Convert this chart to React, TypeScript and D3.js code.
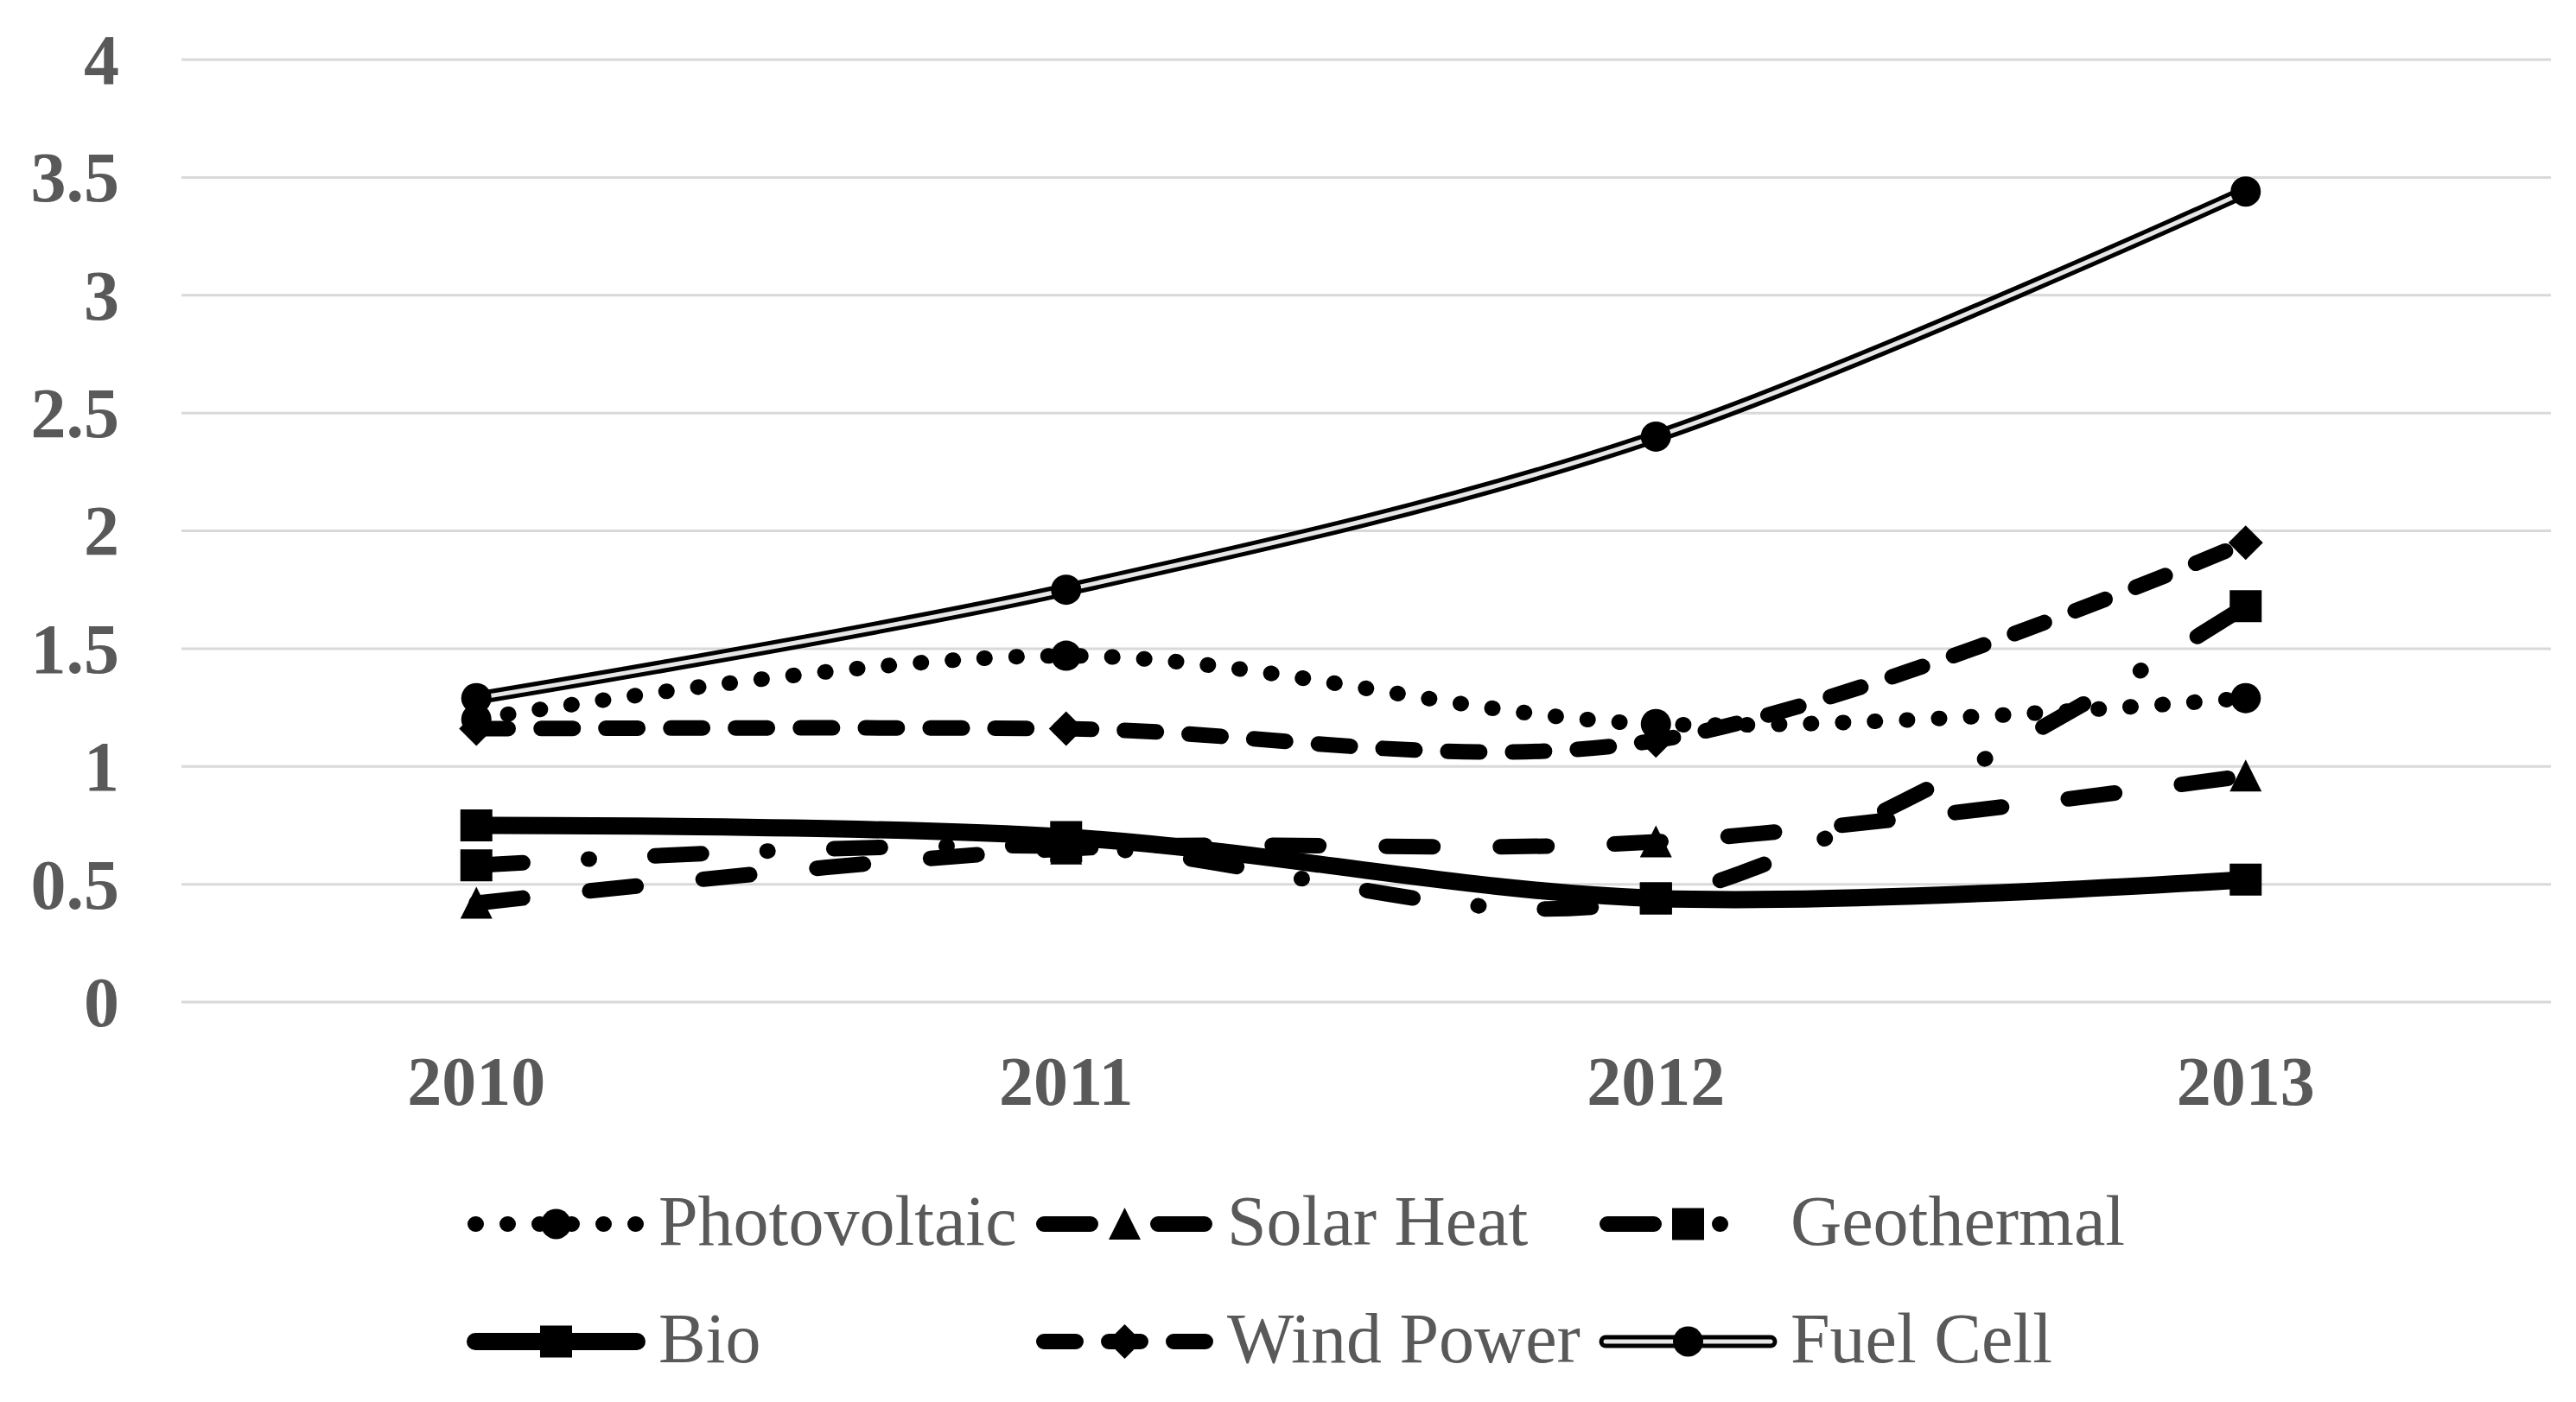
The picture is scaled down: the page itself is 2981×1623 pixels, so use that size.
import React from "react";
import * as d3 from "d3";

const years = ["2010", "2011", "2012", "2013"];
const photovoltaic = [1.2, 1.47, 1.18, 1.29];
const solarHeat = [0.42, 0.65, 0.68, 0.96];
const geothermal = [0.58, 0.66, 0.44, 1.68];
const bio = [0.75, 0.7, 0.44, 0.52];
const windPower = [1.16, 1.16, 1.11, 1.95];
const fuelCell = [1.29, 1.75, 2.4, 3.44];
const yTicks = [0, 0.5, 1, 1.5, 2, 2.5, 3, 3.5, 4];
const yTickLabels = ["0", "0.5", "1", "1.5", "2", "2.5", "3", "3.5", "4"];

type Marker = "circle" | "triangle" | "square" | "diamond";
type Style = "dot" | "longdash" | "dashdot" | "solid" | "dash" | "double";

interface Series {
  name: string;
  values: number[];
  marker: Marker;
  style: Style;
}

const series: Series[] = [
  { name: "Photovoltaic", values: photovoltaic, marker: "circle", style: "dot" },
  { name: "Solar Heat", values: solarHeat, marker: "triangle", style: "longdash" },
  { name: "Geothermal", values: geothermal, marker: "square", style: "dashdot" },
  { name: "Bio", values: bio, marker: "square", style: "solid" },
  { name: "Wind Power", values: windPower, marker: "diamond", style: "dash" },
  { name: "Fuel Cell", values: fuelCell, marker: "circle", style: "double" },
];

const W = 2981;
const H = 1623;
const FONT = "'Liberation Serif', 'Times New Roman', serif";
const TEXT = "#595959";

const x = d3.scaleBand<string>().domain(years).range([210, 2940]);
const y = d3.scaleLinear().domain([0, 4]).range([1160, 69]);

const dashFor = (s: Style): string | undefined => {
  switch (s) {
    case "dot":
      return "1 36";
    case "longdash":
      return "54 78";
    case "dashdot":
      return "54 76 1 76";
    case "dash":
      return "37 38";
    default:
      return undefined;
  }
};

const markerPath = (m: Marker, cx: number, cy: number): string => {
  const p = d3.path();
  if (m === "circle") {
    p.arc(cx, cy, 17.5, 0, Math.PI * 2);
  } else if (m === "square") {
    p.rect(cx - 18.5, cy - 18.5, 37, 37);
  } else if (m === "triangle") {
    p.moveTo(cx, cy - 19);
    p.lineTo(cx + 18.5, cy + 18);
    p.lineTo(cx - 18.5, cy + 18);
    p.closePath();
  } else {
    p.moveTo(cx, cy - 20);
    p.lineTo(cx + 20, cy);
    p.lineTo(cx, cy + 20);
    p.lineTo(cx - 20, cy);
    p.closePath();
  }
  return p.toString();
};

const lineGen = d3
  .line<number>()
  .x((_, i) => (x(years[i]) as number) + x.bandwidth() / 2)
  .y((v) => y(v))
  .curve(d3.curveCardinal.tension(0));

function SeriesLine({ s }: { s: Series }) {
  const d = lineGen(s.values) || "";
  const width = s.style === "solid" ? 20 : 18;
  return (
    <g>
      {s.style === "double" ? (
        <>
          <path d={d} fill="none" stroke="#000" strokeWidth={15} strokeLinecap="round" />
          <path d={d} fill="none" stroke="#e6e6e6" strokeWidth={5} strokeLinecap="round" />
        </>
      ) : (
        <path
          d={d}
          fill="none"
          stroke="#000"
          strokeWidth={width}
          strokeLinecap="round"
          strokeLinejoin="round"
          strokeDasharray={dashFor(s.style)}
        />
      )}
      {s.values.map((v, i) => (
        <path
          key={i}
          d={markerPath(s.marker, (x(years[i]) as number) + x.bandwidth() / 2, y(v))}
          fill="#000"
        />
      ))}
    </g>
  );
}

const legendCols = [541, 1199, 1851];
const legendRows = [1417, 1553];
const legendSymLen = 205;
const legendTextOffset = 221;

function LegendItem({ s, idx }: { s: Series; idx: number }) {
  const lx = legendCols[idx % 3];
  const ly = legendRows[Math.floor(idx / 3)];
  const x0 = lx + 9;
  const x1 = lx + legendSymLen - 9;
  const d = `M${x0},${ly}L${x1},${ly}`;
  const mx = lx + legendSymLen / 2;
  return (
    <g>
      {s.style === "double" ? (
        <>
          <path d={`M${lx + 7},${ly}L${lx + legendSymLen - 7},${ly}`} stroke="#000" strokeWidth={15} strokeLinecap="round" />
          <path d={`M${lx + 7},${ly}L${lx + legendSymLen - 7},${ly}`} stroke="#e6e6e6" strokeWidth={5} strokeLinecap="round" />
        </>
      ) : (
        <path
          d={d}
          stroke="#000"
          strokeWidth={s.style === "solid" ? 20 : 18}
          strokeLinecap="round"
          strokeDasharray={dashFor(s.style)}
        />
      )}
      <path d={markerPath(s.marker, mx, ly)} fill="#000" />
      <text
        x={lx + legendTextOffset}
        y={ly + 24}
        fontFamily={FONT}
        fontSize={82}
        fill={TEXT}
      >
        {s.name}
      </text>
    </g>
  );
}

export default function App() {
  const [gx0, gx1] = x.range();
  return (
    <svg
      width={W}
      height={H}
      viewBox={`0 0 ${W} ${H}`}
      style={{ position: "absolute", left: 0, top: 0, background: "#fff" }}
    >
      <rect x={0} y={0} width={W} height={H} fill="#fff" />
      {yTicks.map((t, i) => (
        <g key={t}>
          <line x1={gx0} x2={gx1 + 12} y1={y(t)} y2={y(t)} stroke="#d9d9d9" strokeWidth={3} />
          <text
            x={138}
            y={y(t)}
            dy="0.34em"
            textAnchor="end"
            fontFamily={FONT}
            fontWeight="bold"
            fontSize={82}
            fill={TEXT}
          >
            {yTickLabels[i]}
          </text>
        </g>
      ))}
      {years.map((yr) => (
        <text
          key={yr}
          x={(x(yr) as number) + x.bandwidth() / 2}
          y={1279}
          textAnchor="middle"
          fontFamily={FONT}
          fontWeight="bold"
          fontSize={80}
          fill={TEXT}
        >
          {yr}
        </text>
      ))}
      {series.map((s) => (
        <SeriesLine key={s.name} s={s} />
      ))}
      {series.map((s, i) => (
        <LegendItem key={s.name} s={s} idx={i} />
      ))}
    </svg>
  );
}
